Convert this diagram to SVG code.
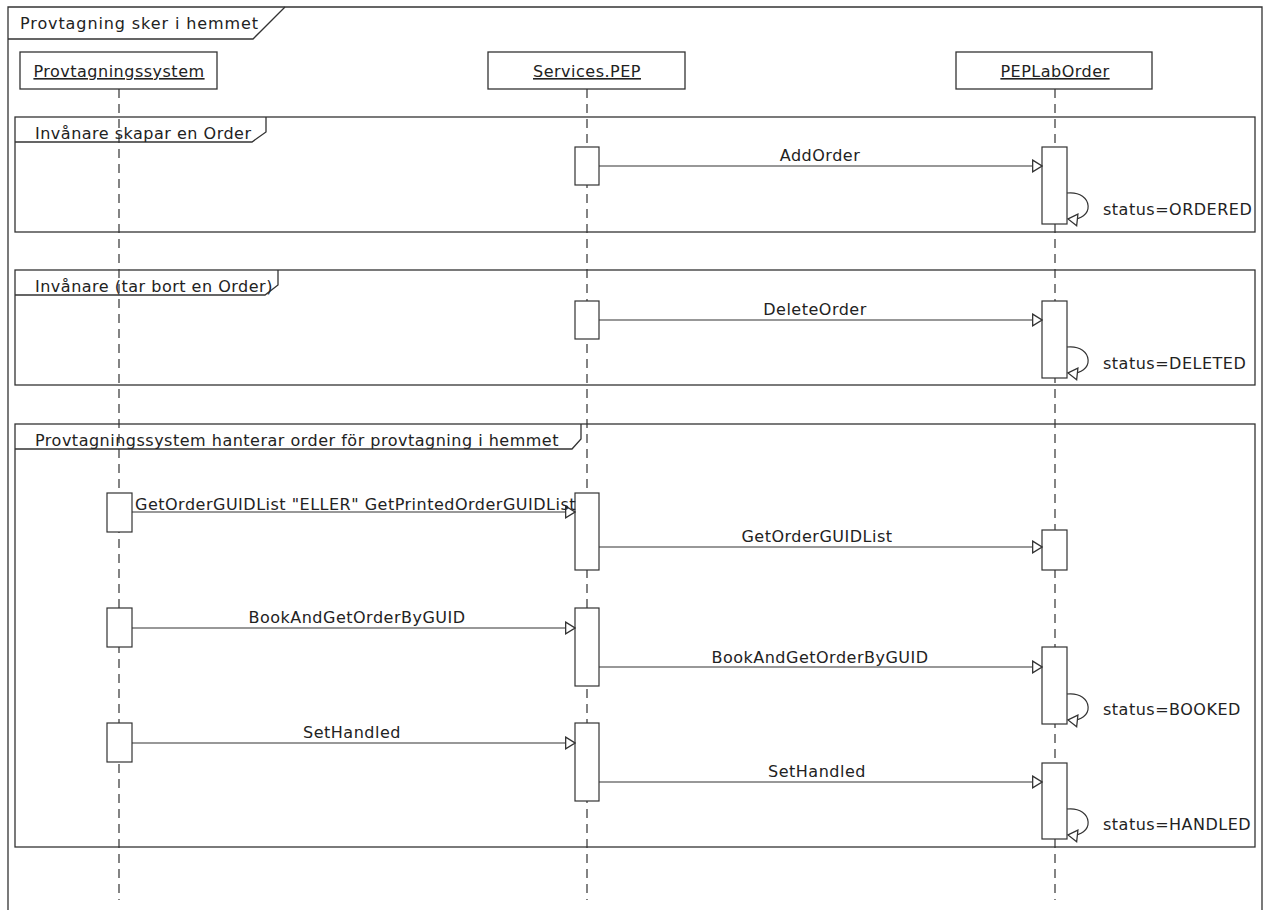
<svg xmlns="http://www.w3.org/2000/svg" width="1268" height="910" viewBox="0 0 1268 910">
<style>
text{font-family:"DejaVu Sans","Liberation Sans",sans-serif;font-size:16px;letter-spacing:0.5px;fill:#222}
.frame{fill:none;stroke:#333;stroke-width:1.3}
.box{fill:#fff;stroke:#333;stroke-width:1.3}
.life{stroke:#333;stroke-width:1.2;stroke-dasharray:9,6;fill:none}
.act{fill:#fff;stroke:#333;stroke-width:1.2}
.msg{stroke:#333;stroke-width:1.2;fill:none;marker-end:url(#arr)}
.mid{text-anchor:middle}
.u{text-decoration:underline}
</style>
<defs>
<marker id="arr" markerUnits="userSpaceOnUse" markerWidth="12" markerHeight="14" viewBox="0 0 10 12" refX="9" refY="6" orient="auto">
<path d="M1,1 L9,6 L1,11 Z" fill="#fff" stroke="#333" stroke-width="1.1"/>
</marker>
</defs>
<rect width="1268" height="910" fill="#fff"/>
<g id="outer-frame">
<path class="frame" d="M8,910 V7 H1262 V910"/>
<path class="frame" d="M8,39 H253 L285,7"/>
<text x="20" y="29" style="letter-spacing:0.9px">Provtagning sker i hemmet</text>
</g>
<g id="lifelines">
<line class="life" x1="119" y1="89" x2="119" y2="900"/>
<line class="life" x1="587" y1="89" x2="587" y2="900"/>
<line class="life" x1="1055" y1="89" x2="1055" y2="900"/>
</g>
<g id="frag1">
<rect class="frame" x="15" y="117" width="1240" height="115"/>
<path class="frame" d="M15,142 H252 L266,132 V117"/>
<text x="35" y="139">Invånare skapar en Order</text>
</g>
<g id="frag2">
<rect class="frame" x="15" y="270" width="1240" height="115"/>
<path class="frame" d="M15,295 H265 L278,285 V270"/>
<text x="35" y="292">Invånare (tar bort en Order)</text>
</g>
<g id="frag3">
<rect class="frame" x="15" y="424" width="1240" height="423"/>
<path class="frame" d="M15,449 H572 L581,439 V424"/>
<text x="35" y="446">Provtagningssystem hanterar order för provtagning i hemmet</text>
</g>
<g id="Provtagningssystem">
<rect class="box" x="20" y="52" width="197" height="37"/>
<text class="mid u" x="119" y="77">Provtagningssystem</text>
</g>
<g id="ServicesPEP">
<rect class="box" x="488" y="52" width="197" height="37"/>
<text class="mid u" x="587" y="77">Services.PEP</text>
</g>
<g id="PEPLabOrder">
<rect class="box" x="956" y="52" width="196" height="37"/>
<text class="mid u" x="1055" y="77">PEPLabOrder</text>
</g>
<g id="activations">
<rect class="act" x="575" y="147" width="24" height="38"/>
<rect class="act" x="1042" y="147" width="25" height="77"/>
<rect class="act" x="575" y="301" width="24" height="38"/>
<rect class="act" x="1042" y="301" width="25" height="77"/>
<rect class="act" x="107" y="493" width="25" height="39"/>
<rect class="act" x="575" y="493" width="24" height="77"/>
<rect class="act" x="1042" y="530" width="25" height="40"/>
<rect class="act" x="107" y="608" width="25" height="39"/>
<rect class="act" x="575" y="608" width="24" height="78"/>
<rect class="act" x="1042" y="647" width="25" height="77"/>
<rect class="act" x="107" y="723" width="25" height="39"/>
<rect class="act" x="575" y="723" width="24" height="78"/>
<rect class="act" x="1042" y="763" width="25" height="76"/>
</g>
<g id="connectors">
<line class="msg" x1="599" y1="166" x2="1042" y2="166"/>
<path class="msg" d="M1067,193 C1094,190 1096,222 1068,219"/>
<line class="msg" x1="599" y1="320" x2="1042" y2="320"/>
<path class="msg" d="M1067,347 C1094,344 1096,376 1068,373"/>
<line class="msg" x1="132" y1="512" x2="575" y2="512"/>
<line class="msg" x1="599" y1="547" x2="1042" y2="547"/>
<line class="msg" x1="132" y1="628" x2="575" y2="628"/>
<line class="msg" x1="599" y1="667" x2="1042" y2="667"/>
<path class="msg" d="M1067,694 C1094,691 1096,723 1068,720"/>
<line class="msg" x1="132" y1="743" x2="575" y2="743"/>
<line class="msg" x1="599" y1="782" x2="1042" y2="782"/>
<path class="msg" d="M1067,809 C1094,806 1096,838 1068,835"/>
</g>
<g id="labels">
<text class="mid" x="820" y="161">AddOrder</text>
<text x="1103" y="215">status=ORDERED</text>
<text class="mid" x="815" y="315">DeleteOrder</text>
<text x="1103" y="369">status=DELETED</text>
<text x="135" y="510">GetOrderGUIDList "ELLER" GetPrintedOrderGUIDList</text>
<text class="mid" x="817" y="542">GetOrderGUIDList</text>
<text class="mid" x="357" y="623">BookAndGetOrderByGUID</text>
<text class="mid" x="820" y="663">BookAndGetOrderByGUID</text>
<text x="1103" y="715">status=BOOKED</text>
<text class="mid" x="352" y="738">SetHandled</text>
<text class="mid" x="817" y="777">SetHandled</text>
<text x="1103" y="830">status=HANDLED</text>
</g>
</svg>
